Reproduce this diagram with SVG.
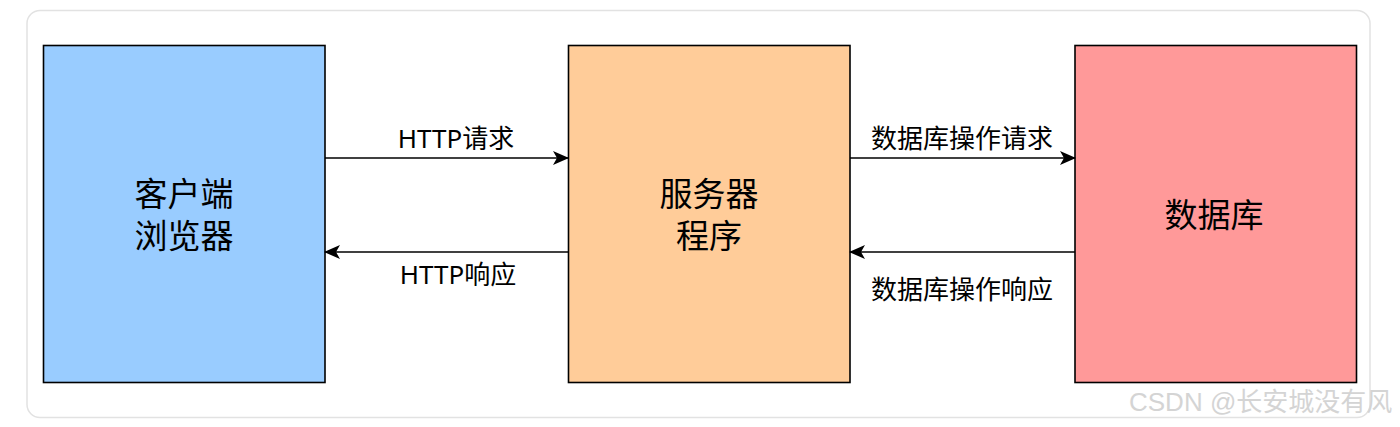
<svg xmlns="http://www.w3.org/2000/svg" width="1400" height="427" viewBox="0 0 1400 427">
  <style>
    .box { stroke: #000; stroke-width: 1.6; }
    .lbl { font-family: "Noto Sans", "Noto Sans CJK SC", sans-serif; font-size: 33px; fill: #000; text-anchor: middle; }
    .elbl { font-family: "Noto Sans", "Noto Sans CJK SC", sans-serif; font-size: 26px; fill: #000; text-anchor: middle; }
    .conn { stroke: #000; stroke-width: 1.6; fill: none; marker-end: url(#arrow); }
    .wm { font-family: "Liberation Sans", "Noto Sans CJK SC", sans-serif; font-size: 26px; fill: #d4d4d4; }
  </style>
  <defs>
    <marker id="arrow" viewBox="0 0 16 14" refX="15" refY="7" markerWidth="16" markerHeight="14" markerUnits="userSpaceOnUse" orient="auto">
      <path d="M0,0 L16,7 L0,14 L4,7 Z" fill="#000"/>
    </marker>
  </defs>
  <rect x="0" y="0" width="1400" height="427" fill="#fff"/>
  <rect x="27" y="10.5" width="1343" height="407" rx="13" fill="#fff" stroke="#e2e2e2" stroke-width="1.5"/>

  <g id="client">
    <rect class="box" x="43.5" y="45.5" width="281.5" height="337" fill="#99ccff"/>
    <text class="lbl" x="184" y="206">客户端</text>
    <text class="lbl" x="184" y="248">浏览器</text>
  </g>
  <g id="server">
    <rect class="box" x="568.5" y="45.5" width="281.5" height="337" fill="#ffcc99"/>
    <text class="lbl" x="709" y="206">服务器</text>
    <text class="lbl" x="709" y="248">程序</text>
  </g>
  <g id="database">
    <rect class="box" x="1075" y="45.5" width="281.5" height="337" fill="#ff9999"/>
    <text class="lbl" x="1214" y="227">数据库</text>
  </g>

  <g id="connectors">
    <line class="conn" x1="325" y1="158" x2="568" y2="158"/>
    <line class="conn" x1="568" y1="252" x2="325" y2="252"/>
    <line class="conn" x1="850" y1="158" x2="1075" y2="158"/>
    <line class="conn" x1="1075" y1="252" x2="850" y2="252"/>
    <text class="elbl" x="456" y="148">HTTP请求</text>
    <text class="elbl" x="458" y="284">HTTP响应</text>
    <text class="elbl" x="962" y="148">数据库操作请求</text>
    <text class="elbl" x="962" y="299">数据库操作响应</text>
  </g>

  <text class="wm" x="1129" y="411">CSDN @长安城没有风</text>
</svg>
